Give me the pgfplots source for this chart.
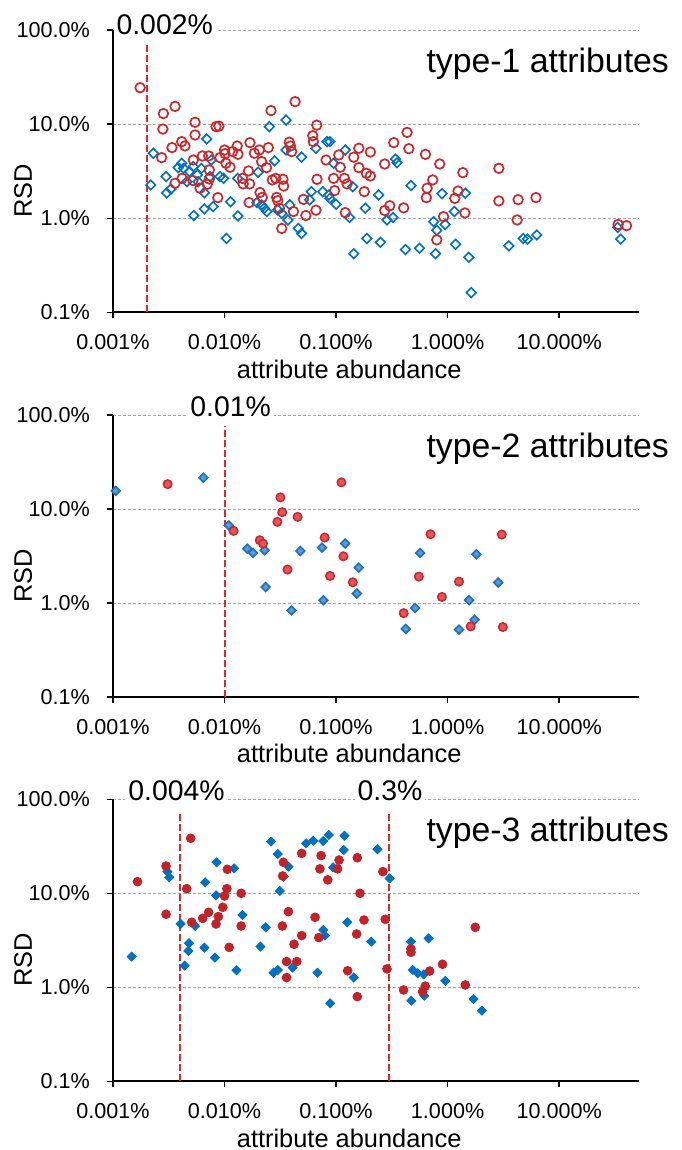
\documentclass[border=0pt]{standalone}
\usepackage{fontspec}
\setmainfont{Liberation Sans}
\usepackage{pgfplots}
\pgfplotsset{compat=1.18}

\definecolor{rc}{HTML}{C9282D}
\definecolor{bc}{HTML}{0070C0}
\definecolor{rfill}{HTML}{E9545A}
\definecolor{redge}{HTML}{C62A2F}
\definecolor{bfill}{HTML}{5B9BD5}
\definecolor{bedge}{HTML}{1F6FBF}
\definecolor{rsolid}{HTML}{C1232B}
\definecolor{cutline}{HTML}{E2262B}

\pgfplotsset{
  rsdaxis/.style={
    scale only axis, width=263pt, height=141pt,
    xmin=0.001, xmax=52, ymin=0.1, ymax=100,
    axis lines*=left,
    axis line style={line width=0.9pt, black},
    xtick={0.001,0.01,0.1,1,10},
    xticklabels={0.001\%,0.010\%,0.100\%,1.000\%,10.000\%},
    ytick={0.1,1,10,100},
    yticklabels={0.1\%,1.0\%,10.0\%,100.0\%},
    xminorticks=false, yminorticks=false,
    tick align=outside, major tick length=3pt,
    tick style={black, line width=0.8pt},
    xticklabel shift=4.5pt, yticklabel shift=5pt,
    ymajorgrids,
    grid style={black!35, line width=0.5pt, dash pattern=on 1.5pt off 1pt},
    ticklabel style={font=\fontsize{10.8}{13}\selectfont},
    xlabel={attribute abundance}, ylabel={RSD},
    label style={font=\fontsize{12.7}{15}\selectfont},
    xlabel style={at={(rel axis cs:0.449,-0.201)}, anchor=center},
    ylabel style={at={(rel axis cs:-0.171,0.43)}, anchor=center},
    clip=false,
  },
  cut/.style={cutline, line width=1pt, dash pattern=on 3.5pt off 1.5pt, no marks},
}
\tikzset{
  thr/.style={fill=white, inner sep=1.5pt, font=\fontsize{14.2}{17}\selectfont},
  ttl/.style={anchor=base east, font=\fontsize{16.9}{20}\selectfont},
}

\begin{document}
\begin{tikzpicture}
\path[use as bounding box] (0,0) rectangle (340.5pt,-575pt);

% ---------------- type-1 ----------------
\begin{loglogaxis}[rsdaxis, at={(56.5pt,-156.15pt)}, anchor=south west]
\addplot[cut] coordinates {(0.002,0.1) (0.002,70)};
\addplot[only marks, mark=square, mark size=1.7pt, mark options={rotate=45, line width=0.8pt}, color=bc]
coordinates {
(0.00218,2.26) (0.0023,4.92) (0.00299,2.78) (0.00303,1.86) (0.0033,2.05)
(0.00385,3.46) (0.00413,3.85) (0.0043,3.4) (0.00485,3.14) (0.00525,3.55)
(0.0057,2.89) (0.0062,3.40) (0.0066,1.87) (0.00692,6.98) (0.0074,2.78)
(0.0076,4.17) (0.0079,1.33) (0.0066,1.26) (0.0053,1.07) (0.0091,2.78)
(0.0098,2.66) (0.0104,0.61) (0.0113,1.50) (0.0132,1.06) (0.0131,2.66)
(0.0200,3.09) (0.0195,1.47) (0.0215,1.39) (0.0227,1.28) (0.024,1.18)
(0.0252,9.44) (0.0281,4.08) (0.030,1.23) (0.0326,1.13) (0.0356,11.1)
(0.0356,5.33) (0.049,4.47) (0.037,0.96) (0.046,0.78) (0.049,0.69)
(0.0385,1.39) (0.058,1.57) (0.060,1.92) (0.066,5.56) (0.076,1.92)
(0.083,6.54) (0.086,1.77) (0.0058,2.45) (0.0046,2.45)
(0.088,6.54) (0.095,3.85) (0.088,1.63) (0.1,1.41) (0.121,5.33)
(0.141,2.17) (0.132,1.02) (0.144,0.42) (0.183,1.28) (0.189,0.61)
(0.241,1.77) (0.25,0.555) (0.286,0.96) (0.324,1.02) (0.341,4.27)
(0.352,3.9) (0.419,0.465) (0.47,2.23) (0.56,0.48) (0.75,0.92)
(0.80,0.745) (0.78,0.42) (0.89,1.83) (0.95,0.86) (1.15,1.18)
(1.18,0.53) (1.44,1.85) (1.55,0.385) (1.63,0.162) (3.54,0.51)
(4.77,0.61) (5.2,0.6) (6.3,0.665) (35.6,0.60) (33.5,0.80)
};
\addplot[only marks, mark=o, mark size=2.4pt, mark options={line width=0.85pt}, color=rc]
coordinates {
(0.00175,24.5) (0.00283,13.0) (0.0036,15.5) (0.0028,8.9) (0.00338,5.65)
(0.00273,4.42) (0.00413,6.54) (0.00442,5.88) (0.00544,10.5) (0.00544,7.7)
(0.00525,4.17) (0.0036,2.36) (0.00416,2.66) (0.0052,2.52) (0.00603,2.09)
(0.00633,4.6) (0.00721,4.6) (0.0073,3.27) (0.0073,2.62) (0.0070,2.30)
(0.00839,9.44) (0.0089,9.55) (0.0087,1.66) (0.0091,4.42) (0.0100,5.33)
(0.0101,4.87) (0.0103,3.85) (0.0112,3.49) (0.0118,5.12) (0.0130,5.88)
(0.0132,4.8) (0.0145,2.66) (0.0147,2.32) (0.0164,3.19) (0.0169,6.38)
(0.0168,2.32) (0.0166,1.47) (0.0185,4.92) (0.0205,5.33) (0.0215,4.01)
(0.0247,5.65) (0.0238,3.46) (0.0261,14.0) (0.0268,2.56) (0.0288,2.66)
(0.0208,1.88) (0.0218,1.67) (0.0293,1.67) (0.030,1.54) (0.031,1.28)
(0.0326,0.78) (0.0334,2.6) (0.0339,2.2) (0.0381,6.45) (0.040,5.12)
(0.039,5.88) (0.0429,17.4) (0.0415,1.18) (0.051,1.59) (0.0536,1.07)
(0.0618,7.57) (0.0626,6.54) (0.0671,9.8) (0.066,1.22) (0.0675,2.6)
(0.0813,4.17)
(0.1057,4.72) (0.109,3.49) (0.095,2.66) (0.097,1.97) (0.1188,2.66)
(0.1255,2.32) (0.121,1.15) (0.144,4.47) (0.160,5.56) (0.160,3.46)
(0.179,1.92) (0.187,3.01) (0.203,2.82) (0.203,5.07) (0.273,3.78)
(0.273,1.21) (0.303,1.36) (0.329,6.38) (0.433,8.2) (0.449,5.5)
(0.404,1.29) (0.633,4.79) (0.736,2.56) (0.655,2.09) (0.645,1.66)
(0.85,3.78) (0.92,1.04) (0.80,0.59) (1.16,1.63) (1.24,1.95)
(1.37,3.06) (1.43,1.14) (2.88,3.40) (2.88,1.53) (4.29,1.58)
(4.2,0.96) (6.2,1.66) (33.8,0.86) (40.2,0.835)
};
\node[thr] at (rel axis cs:0.0983,1.019) {0.002\%};
\node[ttl] at (rel axis cs:1.0703,0.851) {type-1 attributes};
\end{loglogaxis}

% ---------------- type-2 ----------------
\begin{loglogaxis}[rsdaxis, at={(56.5pt,-348.5pt)}, anchor=south west]
\addplot[cut] coordinates {(0.01,0.1) (0.01,76)};
\addplot[only marks, mark=square*, mark size=1.55pt, mark options={rotate=45, line width=0.8pt, draw=bedge, fill=bfill}]
coordinates {
(0.00106,15.6) (0.00647,21.5) (0.0109,6.7) (0.016,3.79) (0.018,3.41)
(0.0229,3.64) (0.0234,1.48) (0.0399,0.835) (0.0479,3.58) (0.0748,3.89)
(0.0769,1.07) (0.1205,4.29) (0.160,2.38) (0.1535,1.26) (0.422,0.53)
(0.512,0.885) (0.567,3.41) (1.265,0.52) (1.556,1.07) (1.75,0.664)
(1.81,3.30) (2.84,1.65)
};
\addplot[only marks, mark=*, mark size=2.1pt, mark options={line width=0.8pt, draw=redge, fill=rfill}]
coordinates {
(0.00309,18.4) (0.01205,5.85) (0.0207,4.65) (0.0221,4.29) (0.0298,7.3)
(0.0317,13.3) (0.0329,9.25) (0.0367,2.27) (0.0452,8.25) (0.079,4.97)
(0.0883,1.94) (0.1117,19.2) (0.1164,3.14) (0.1413,1.66) (0.404,0.78)
(0.552,1.91) (0.703,5.39) (0.889,1.16) (1.265,1.69) (1.61,0.564)
(3.06,5.35) (3.13,0.555)
};
\node[thr] at (rel axis cs:0.2238,1.031) {0.01\%};
\node[ttl] at (rel axis cs:1.0703,0.848) {type-2 attributes};
\end{loglogaxis}

% ---------------- type-3 ----------------
\begin{loglogaxis}[rsdaxis, at={(56.5pt,-540.65pt)}, anchor=south west]
\addplot[cut] coordinates {(0.004,0.1) (0.004,72)};
\addplot[cut] coordinates {(0.3,0.1) (0.3,72)};
\addplot[only marks, mark=square*, mark size=1.6pt, mark options={rotate=45}, color=bc]
coordinates {
(0.00147,2.12) (0.00307,17.0) (0.0032,14.8) (0.00404,4.72) (0.00545,4.49)
(0.0048,2.94) (0.00474,2.44) (0.00439,1.70) (0.0066,2.64) (0.0067,13.1)
(0.0085,21.4) (0.0084,9.52) (0.0082,2.07) (0.0122,18.4) (0.0145,5.88)
(0.0128,1.52) (0.021,2.71) (0.0234,4.35) (0.0261,35.5) (0.030,26.2)
(0.0313,10.6) (0.034,15.0) (0.0375,19.2) (0.0275,1.43) (0.030,1.53)
(0.0408,1.62) (0.0538,34.0) (0.0625,36.3) (0.0768,36) (0.086,41.8)
(0.119,41) (0.117,28.9) (0.094,18.9) (0.0768,4.07) (0.0795,3.55)
(0.068,1.43) (0.0885,0.676) (0.126,4.92) (0.144,1.27) (0.207,3.06)
(0.235,29.4) (0.302,14.4) (0.469,3.06) (0.676,3.32) (0.488,1.53)
(0.54,1.41) (0.61,1.37) (0.953,1.17) (0.473,0.72) (0.618,0.815)
(1.71,0.751) (2.03,0.565)
};
\addplot[only marks, mark=*, mark size=2.2pt, color=rsolid]
coordinates {
(0.00166,13.3) (0.00299,19.5) (0.00299,5.98) (0.00497,38.5) (0.00458,11.2)
(0.00508,4.92) (0.00637,5.42) (0.0072,6.28) (0.00839,4.72) (0.0088,5.65)
(0.00965,7.1) (0.0100,9.37) (0.0105,11.2) (0.0106,18.0) (0.0110,2.66)
(0.0141,10.0) (0.0141,4.49) (0.0337,21.4) (0.0332,15.3) (0.0374,6.38)
(0.0330,4.49) (0.0492,26.6) (0.0492,3.55) (0.042,2.87) (0.036,1.88)
(0.0445,1.88) (0.036,1.27) (0.0734,25.2) (0.0716,18.2) (0.0842,13.9)
(0.0648,5.56) (0.070,3.38) (0.1064,22.6) (0.103,18.2) (0.155,23.9)
(0.164,10.0) (0.178,5.2) (0.153,3.69) (0.127,1.50) (0.155,0.796)
(0.263,17.0) (0.276,5.29) (0.286,1.57) (0.469,2.56) (0.469,2.36)
(0.69,1.49) (0.90,1.76) (0.403,0.937) (0.597,0.90) (0.63,1.03)
(1.44,1.06) (1.77,4.35)
};
\node[thr] at (rel axis cs:0.1207,1.030) {0.004\%};
\node[thr] at (rel axis cs:0.5266,1.030) {0.3\%};
\node[ttl] at (rel axis cs:1.0703,0.850) {type-3 attributes};
\end{loglogaxis}
\end{tikzpicture}
\end{document}
